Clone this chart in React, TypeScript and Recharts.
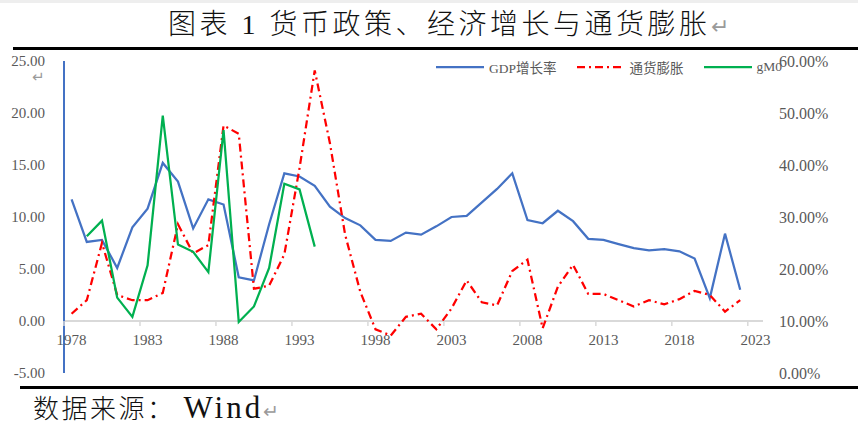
import React from 'react';
import { LineChart, Line, XAxis, YAxis, ReferenceLine } from 'recharts';

// 年份（类目）
const years = [
  '1978', '1979', '1980', '1981', '1982', '1983', '1984', '1985', '1986', '1987',
  '1988', '1989', '1990', '1991', '1992', '1993', '1994', '1995', '1996', '1997',
  '1998', '1999', '2000', '2001', '2002', '2003', '2004', '2005', '2006', '2007',
  '2008', '2009', '2010', '2011', '2012', '2013', '2014', '2015', '2016', '2017',
  '2018', '2019', '2020', '2021', '2022', '2023',
];

// GDP增长率（左轴）
const gdpGrowth = [
  11.7, 7.6, 7.8, 5.1, 9.0, 10.8, 15.2, 13.4, 8.9, 11.7,
  11.2, 4.2, 3.9, 9.3, 14.2, 13.9, 13.0, 11.0, 9.9, 9.2,
  7.8, 7.7, 8.5, 8.3, 9.1, 10.0, 10.1, 11.4, 12.7, 14.2,
  9.7, 9.4, 10.6, 9.6, 7.9, 7.8, 7.4, 7.0, 6.8, 6.9,
  6.7, 6.0, 2.2, 8.4, 3.0, null,
];

// 通货膨胀（左轴）
const inflation = [
  0.7, 2.0, 7.5, 2.5, 2.0, 2.0, 2.7, 9.3, 6.5, 7.3,
  18.8, 18.0, 3.1, 3.4, 6.4, 14.7, 24.1, 17.1, 8.3, 2.8,
  -0.8, -1.4, 0.4, 0.7, -0.8, 1.2, 3.9, 1.8, 1.5, 4.8,
  5.9, -0.7, 3.3, 5.4, 2.6, 2.6, 2.0, 1.4, 2.0, 1.6,
  2.1, 2.9, 2.5, 0.9, 2.0, null,
];

// gM0（右轴，%）
const gM0 = [
  null, 26.3, 29.3, 14.5, 10.8, 20.7, 49.5, 24.7, 23.3, 19.4,
  46.7, 9.8, 12.8, 20.2, 36.4, 35.3, 24.3, null, null, null,
  null, null, null, null, null, null, null, null, null, null,
  null, null, null, null, null, null, null, null, null, null,
  null, null, null, null, null, null,
];

const leftTicks = [-5, 0, 5, 10, 15, 20, 25];
const rightTicks = [0, 10, 20, 30, 40, 50, 60];

const chartData = years.map((year, i) => ({
  year,
  gdp: gdpGrowth[i],
  cpi: inflation[i],
  m0: gM0[i],
}));

const series = [
  { key: 'gdp', name: 'GDP增长率', color: '#4472C4', dash: undefined as string | undefined, axis: 'left' },
  { key: 'cpi', name: '通货膨胀', color: '#FF0000', dash: '8 4 2 4', axis: 'left' },
  { key: 'm0', name: 'gM0', color: '#00B050', dash: undefined as string | undefined, axis: 'right' },
];

const W = 858;
const H = 429;
const plotLeft = 64;
const plotRight = 763;
const plotTop = 61;
const plotBottom = 373;
const leftW = 60;
const rightW = 80;
const xAxisH = 20;
const zeroY = plotTop + (plotBottom - plotTop) * (25 / 30);
const band = (plotRight - plotLeft) / years.length;

const serif = '"Liberation Serif", "Noto Sans CJK SC", serif';
const tickStyle = { fontSize: 15, fill: '#595959', fontFamily: serif };

function YearTick(props: any) {
  const { x, payload } = props;
  return (
    <g>
      <line x1={x - band / 2} x2={x - band / 2} y1={zeroY} y2={zeroY + 5} stroke="#d9d9d9" strokeWidth={1.5} />
      <text x={x} y={zeroY + 24} textAnchor="middle" fontSize={15} fill="#595959" fontFamily={serif}>
        {payload.value}
      </text>
    </g>
  );
}

export default function App() {
  return (
    <div style={{ position: 'absolute', left: 0, top: 0, width: W, height: H, background: '#fff', overflow: 'hidden' }}>
      <div style={{ position: 'absolute', left: 0, top: 0, width: W, height: 3, background: '#eeeeee' }} />
      <div
        style={{
          position: 'absolute',
          left: 168,
          top: 7,
          fontSize: 28,
          letterSpacing: 3.5,
          fontFamily: serif,
          fontWeight: 300,
          color: '#111',
          whiteSpace: 'nowrap',
          lineHeight: '36px',
        }}
      >
        图表 1 货币政策、经济增长与通货膨胀<span style={{ color: '#9a9a9a', fontSize: 22, fontFamily: 'DejaVu Sans' }}>↵</span>
      </div>
      <div style={{ position: 'absolute', left: 13, top: 47, width: W - 13, height: 3, background: '#000' }} />

      <LineChart
        width={W}
        height={H}
        data={chartData}
        margin={{ top: plotTop, right: W - plotRight - rightW, bottom: H - plotBottom - xAxisH, left: plotLeft - leftW }}
      >
        <XAxis
          dataKey="year"
          height={xAxisH}
          interval={4}
          padding={{ left: band / 2, right: band / 2 }}
          axisLine={false}
          tickLine={false}
          tick={<YearTick />}
        />
        <YAxis
          yAxisId="left"
          width={leftW}
          domain={[-5, 25]}
          ticks={leftTicks}
          allowDataOverflow
          tickFormatter={(v: number) => v.toFixed(2)}
          axisLine={{ stroke: '#4472C4', strokeWidth: 2 }}
          tickLine={false}
          tickSize={0}
          tickMargin={19}
          tick={tickStyle}
        />
        <YAxis
          yAxisId="right"
          orientation="right"
          width={rightW}
          domain={[0, 60]}
          ticks={rightTicks}
          allowDataOverflow
          tickFormatter={(v: number) => `${v.toFixed(2)}%`}
          axisLine={false}
          tickLine={false}
          tickSize={0}
          tickMargin={16}
          tick={{ ...tickStyle, fontSize: 16 }}
        />
        <ReferenceLine yAxisId="left" y={0} stroke="#d9d9d9" strokeWidth={2} />
        {series.map((s) => (
          <Line
            key={s.key}
            yAxisId={s.axis}
            dataKey={s.key}
            name={s.name}
            type="linear"
            stroke={s.color}
            strokeWidth={2.25}
            strokeDasharray={s.dash}
            dot={false}
            activeDot={false}
            isAnimationActive={false}
          />
        ))}
      </LineChart>

      {/* 图例 */}
      <div
        style={{
          position: 'absolute',
          left: 436,
          top: 57,
          display: 'flex',
          alignItems: 'center',
          fontSize: 13.5,
          fontFamily: serif,
          color: '#595959',
          whiteSpace: 'nowrap',
        }}
      >
        {series.map((s) => (
          <div key={s.key} style={{ display: 'flex', alignItems: 'center', marginRight: 20 }}>
            <svg width={48} height={10} style={{ marginRight: 5 }}>
              <line x1={0} x2={48} y1={5} y2={5} stroke={s.color} strokeWidth={2.25} strokeDasharray={s.dash} />
            </svg>
            <span>{s.name}</span>
          </div>
        ))}
      </div>

      <div style={{ position: 'absolute', left: 32, top: 68, fontSize: 15, color: '#9a9a9a', fontFamily: 'DejaVu Sans' }}>↵</div>

      <div style={{ position: 'absolute', left: 20, top: 386, width: W - 20, height: 3, background: '#000' }} />
      <div
        style={{
          position: 'absolute',
          left: 33,
          top: 390,
          fontSize: 26,
          letterSpacing: 2.5,
          fontFamily: serif,
          fontWeight: 300,
          color: '#111',
          whiteSpace: 'nowrap',
          lineHeight: '36px',
        }}
      >
        数据来源：<span style={{ fontSize: 31, letterSpacing: 3, marginLeft: 8 }}>Wind</span>
        <span style={{ color: '#9a9a9a', fontSize: 19, fontFamily: 'DejaVu Sans', letterSpacing: 0 }}>↵</span>
      </div>
    </div>
  );
}
